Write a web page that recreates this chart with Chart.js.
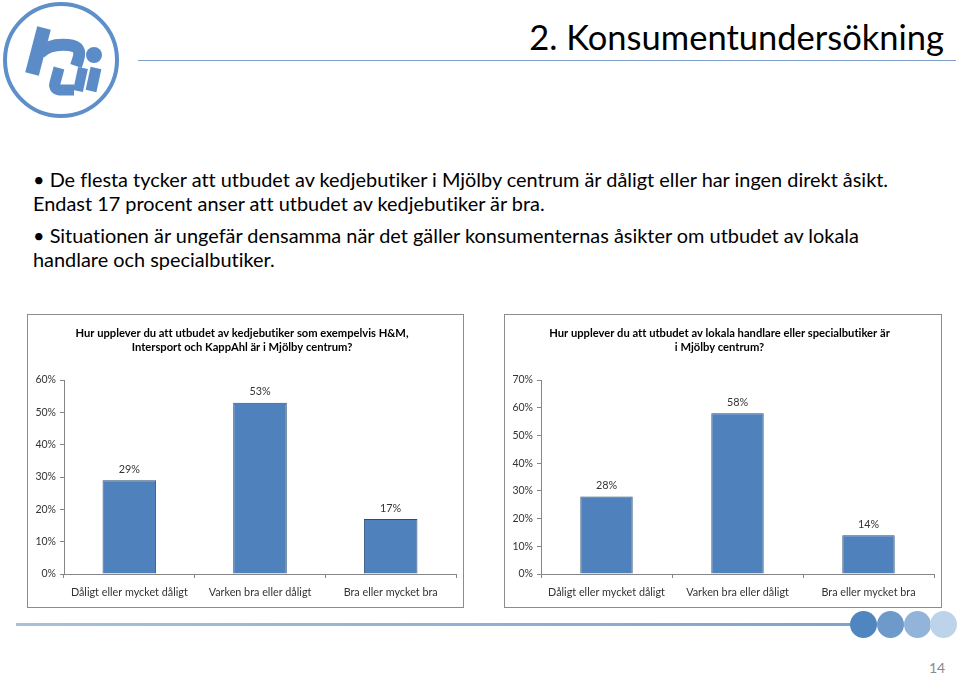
<!DOCTYPE html>
<html lang="sv">
<head>
    <meta charset="UTF-8">
    <script src="https://cdn.jsdelivr.net/npm/chart.js"></script>
    <title>Konsumentundersökning</title>
    <style>
        body {
            margin: 0;
            width: 960px;
            height: 675px;
            background: #ffffff;
            position: relative;
            overflow: hidden;
            font-family: Lato, "Open Sans", sans-serif;
            font-variant-ligatures: none;
            color: #000;
        }

        .logo {
            position: absolute;
            left: 0px;
            top: 0px;
        }

        .title {
            position: absolute;
            right: 16px;
            top: 15px;
            font-size: 34.5px;
            line-height: 44px;
            white-space: nowrap;
        }

        .title-rule {
            position: absolute;
            left: 138px;
            top: 60px;
            width: 818px;
            height: 1px;
            background: #7f9fc8;
        }

        .bullets {
            position: absolute;
            left: 33px;
            top: 167px;
            font-size: 19.9px;
            white-space: nowrap;
        }

        .bullets p {
            margin: 0 0 8px 0;
            line-height: 24px;
        }

        .box {
            position: absolute;
            top: 314px;
            height: 294px;
            border: 1px solid #8c8c8c;
            box-sizing: border-box;
        }

        .box1 { left: 27px; width: 437px; }
        .box2 { left: 504px; width: 438px; }

        .footer-line {
            position: absolute;
            left: 16px;
            top: 623px;
            width: 840px;
            height: 3px;
            background: linear-gradient(to right, #a9c0da, #7fa3cb);
        }

        .dot {
            position: absolute;
            top: 611px;
            width: 27px;
            height: 27px;
            border-radius: 50%;
        }

        .page-no {
            position: absolute;
            left: 929px;
            top: 659px;
            font-size: 14px;
            color: #8a8a8a;
        }
    </style>
</head>
<body>

    <svg class="logo" width="124" height="122" viewBox="0 0 124 122">
        <circle cx="61" cy="60" r="56" fill="none" stroke="#5f8fc9" stroke-width="4"/>
        <g fill="none" stroke="#5b8cc8" stroke-linejoin="round">
            <path d="M44 28 L32 74" stroke-width="14"/>
            <path d="M40 53 C47 46 56 44 68 45 C79 46 81 51 78 60 L76 66" stroke-width="12"/>
            <path d="M59 68 L55 83 Q53 90 62 90 L74 90" stroke-width="11"/>
            <path d="M83 68 L78 91" stroke-width="10"/>
            <path d="M96 68 L91 91" stroke-width="11"/>
        </g>
        <circle cx="94" cy="55" r="8" fill="#5b8cc8"/>
    </svg>

    <div class="title">2. Konsumentundersökning</div>
    <div class="title-rule"></div>

    <div class="bullets">
        <p>• De flesta tycker att utbudet av kedjebutiker i Mjölby centrum är dåligt eller har ingen direkt åsikt.<br>Endast 17 procent anser att utbudet av kedjebutiker är bra.</p>
        <p>• Situationen är ungefär densamma när det gäller konsumenternas åsikter om utbudet av lokala<br>handlare och specialbutiker.</p>
    </div>

    <div class="box box1"><canvas id="chainChart"></canvas></div>
    <div class="box box2"><canvas id="localChart"></canvas></div>

    <div class="footer-line"></div>
    <div class="dot" style="left:850px;background:#4f86bf;"></div>
    <div class="dot" style="left:877px;background:#6d9acb;"></div>
    <div class="dot" style="left:904px;background:#92b4da;"></div>
    <div class="dot" style="left:930px;background:#bdd3ea;"></div>
    <div class="page-no">14</div>

    <script>
        // answer categories, shared by both charts
        const categories = ["Dåligt eller mycket dåligt", "Varken bra eller dåligt", "Bra eller mycket bra"];

        // kedjebutiker (H&M, Intersport, KappAhl)
        const chainTitle = ["Hur upplever du att utbudet av kedjebutiker som exempelvis H&M,", "Intersport och KappAhl är i Mjölby centrum?"];
        const chainValues = [29, 53, 17];
        const chainTicks = [0, 10, 20, 30, 40, 50, 60];

        // lokala handlare / specialbutiker
        const localTitle = ["Hur upplever du att utbudet av lokala handlare eller specialbutiker är", "i Mjölby centrum?"];
        const localValues = [28, 58, 14];
        const localTicks = [0, 10, 20, 30, 40, 50, 60, 70];

        const axisColor = "#868686";
        const labelColor = "#333333";
        const fontFamily = "Lato, 'Open Sans', sans-serif";

        // percent labels above each bar
        const valueLabels = {
            id: "valueLabels",
            afterDatasetsDraw(chart) {
                const ctx = chart.ctx;
                const ds = chart.data.datasets[0];
                ctx.save();
                ctx.font = "10.8px " + fontFamily;
                ctx.fillStyle = labelColor;
                ctx.textAlign = "center";
                ctx.textBaseline = "middle";
                chart.getDatasetMeta(0).data.forEach((bar, i) => {
                    ctx.fillText(ds.data[i] + "%", bar.x, bar.y - 11);
                });
                ctx.restore();
            }
        };

        function makeChart(id, title, values, ticks, barPct) {
            const ctx = document.getElementById(id).getContext("2d");
            return new Chart(ctx, {
                type: "bar",
                data: {
                    labels: categories,
                    datasets: [{
                        data: values,
                        backgroundColor: "#4f81bd",
                        borderColor: "#2c4d74",
                        borderWidth: 1,
                        barPercentage: barPct,
                        categoryPercentage: 1
                    }]
                },
                options: {
                    responsive: true,
                    maintainAspectRatio: false,
                    animation: false,
                    layout: { padding: { left: 0, right: 7, top: 0, bottom: 0 } },
                    plugins: {
                        legend: { display: false },
                        tooltip: { enabled: false },
                        title: {
                            display: true,
                            text: title,
                            color: "#000",
                            font: { family: fontFamily, size: 11.2, weight: "bold", lineHeight: 1.25 },
                            padding: { top: 11, bottom: 26 }
                        }
                    },
                    scales: {
                        x: {
                            grid: { display: true, drawOnChartArea: false, drawTicks: true, tickLength: 4, color: axisColor },
                            border: { display: true, color: axisColor },
                            ticks: { color: labelColor, font: { family: fontFamily, size: 10.8 }, padding: 8, maxRotation: 0 },
                            afterFit(scale) { scale.height = 33; }
                        },
                        y: {
                            min: ticks[0],
                            max: ticks[ticks.length - 1],
                            afterBuildTicks(scale) { scale.ticks = ticks.map(v => ({ value: v })); },
                            grid: { display: true, drawOnChartArea: false, drawTicks: true, tickLength: 4, color: axisColor },
                            border: { display: true, color: axisColor },
                            ticks: {
                                color: labelColor,
                                font: { family: fontFamily, size: 10.5 },
                                padding: 4,
                                callback: v => v + "%"
                            },
                            afterFit(scale) { scale.width = 36; }
                        }
                    }
                },
                plugins: [valueLabels]
            });
        }

        makeChart("chainChart", chainTitle, chainValues, chainTicks, 0.41);
        makeChart("localChart", localTitle, localValues, localTicks, 0.40);
    </script>

</body>
</html>
